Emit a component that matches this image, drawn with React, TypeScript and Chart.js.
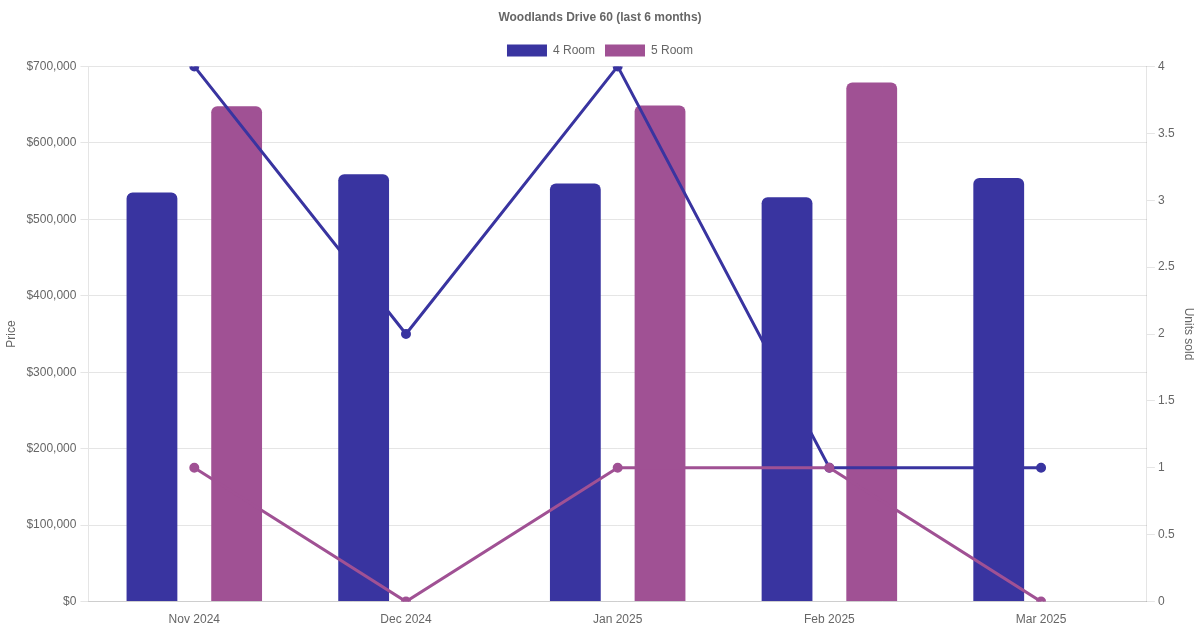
import { useEffect, useRef } from "react";
import { Chart, registerables } from "chart.js";

Chart.register(...registerables);

const months = ["Nov 2024", "Dec 2024", "Jan 2025", "Feb 2025", "Mar 2025"];
const price4Room = [535000, 559000, 547000, 529000, 554000];
const price5Room = [648000, null, 649000, 679000, null];
const units4Room = [4, 2, 4, 1, 1];
const units5Room = [1, 0, 1, 1, 0];

const blue = "#3934a0";
const purple = "#a05194";

export default function App() {
  const canvasRef = useRef<HTMLCanvasElement>(null);
  const chartRef = useRef<Chart | null>(null);

  useEffect(() => {
    document.body.style.margin = "0";
    if (!canvasRef.current) return;
    if (chartRef.current) chartRef.current.destroy();

    chartRef.current = new Chart(canvasRef.current, {
      type: "bar",
      data: {
        labels: months,
        datasets: [
          {
            type: "bar",
            label: "4 Room",
            data: price4Room,
            backgroundColor: blue,
            borderRadius: 6,
            barPercentage: 0.6,
            yAxisID: "y",
            order: 1,
          },
          {
            type: "bar",
            label: "5 Room",
            data: price5Room,
            backgroundColor: purple,
            borderRadius: 6,
            barPercentage: 0.6,
            yAxisID: "y",
            order: 3,
          },
          {
            type: "line",
            label: "4 Room units",
            data: units4Room,
            borderColor: blue,
            backgroundColor: blue,
            borderWidth: 3,
            pointRadius: 3.5,
            tension: 0,
            yAxisID: "y1",
            order: 2,
          },
          {
            type: "line",
            label: "5 Room units",
            data: units5Room,
            borderColor: purple,
            backgroundColor: purple,
            borderWidth: 3,
            pointRadius: 3.5,
            tension: 0,
            yAxisID: "y1",
            order: 0,
          },
        ],
      } as any,
      options: {
        animation: false,
        responsive: true,
        maintainAspectRatio: false,
        plugins: {
          title: {
            display: true,
            text: "Woodlands Drive 60 (last 6 months)",
            color: "#666",
            font: { size: 12, weight: "bold" },
          },
          legend: {
            labels: {
              color: "#666",
              filter: (item) => !String(item.text).includes("units"),
            },
          },
          tooltip: { enabled: false },
        },
        scales: {
          x: {
            grid: { display: false },
            ticks: { color: "#666" },
          },
          y: {
            position: "left",
            min: 0,
            max: 700000,
            ticks: {
              stepSize: 100000,
              color: "#666",
              padding: 4,
              callback: (v) => "$" + Number(v).toLocaleString("en-US"),
            },
            title: { display: true, text: "Price", color: "#666" },
          },
          y1: {
            position: "right",
            min: 0,
            max: 4,
            ticks: {
              stepSize: 0.5,
              color: "#666",
              callback: (v) => String(Number(v)),
            },
            grid: { drawOnChartArea: false },
            title: { display: true, text: "Units sold", color: "#666" },
          },
        },
      },
    });

    return () => {
      chartRef.current?.destroy();
      chartRef.current = null;
    };
  }, []);

  return (
    <div style={{ position: "relative", width: 1200, height: 630 }}>
      <canvas ref={canvasRef} />
    </div>
  );
}
